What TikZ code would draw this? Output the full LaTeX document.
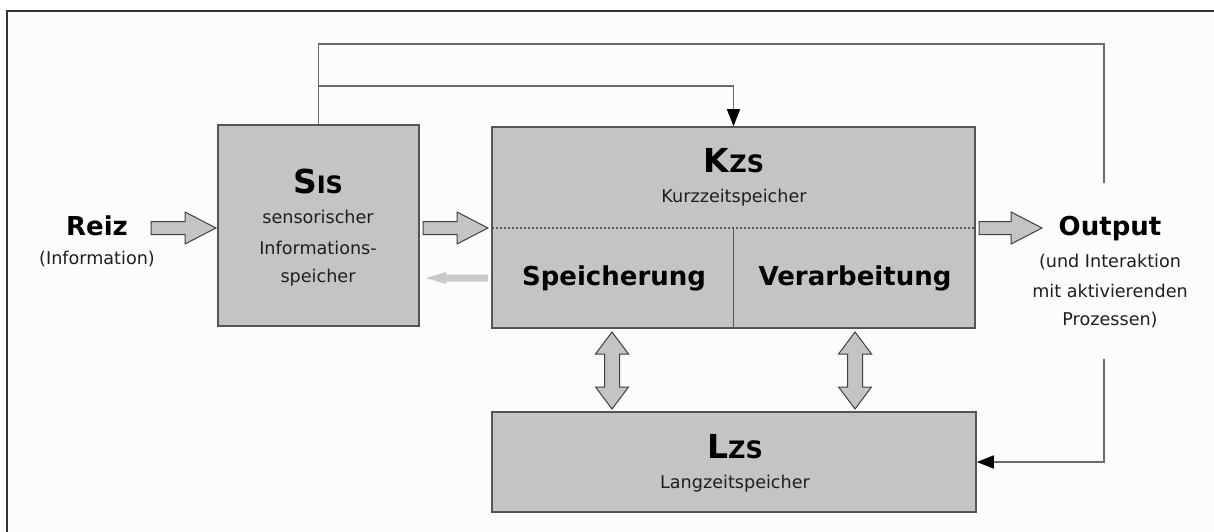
\documentclass[tikz,border=0pt]{standalone}
\usepackage{fontspec}
\setmainfont{DejaVu Sans}
\usetikzlibrary{arrows.meta}
\definecolor{boxfill}{HTML}{C4C4C4}
\definecolor{boxline}{HTML}{555555}
\definecolor{connc}{HTML}{6A6A6A}
\definecolor{framec}{HTML}{333333}
\definecolor{bgc}{HTML}{FCFCFC}
\definecolor{ghost}{HTML}{C9C9C9}
\definecolor{subtext}{HTML}{1E1E1E}
\newcommand\myharrow[3]{\draw[blockarrow] (#1,#3-6.5) -- (#2-31,#3-6.5) -- (#2-31,#3-16) -- (#2,#3) -- (#2-31,#3+16) -- (#2-31,#3+6.5) -- (#1,#3+6.5) -- cycle;}
\newcommand\myvarrow[3]{\draw[blockarrow] (#1,#2) -- (#1+16.5,#2+22) -- (#1+7.5,#2+22) -- (#1+7.5,#3-22) -- (#1+16.5,#3-22) -- (#1,#3) -- (#1-16.5,#3-22) -- (#1-7.5,#3-22) -- (#1-7.5,#2+22) -- (#1-16.5,#2+22) -- cycle;}
\begin{document}
\begin{tikzpicture}[x=1pt,y=-1pt,
  box/.style={draw=boxline, fill=boxfill, line width=1.6pt, inner sep=0pt},
  big/.style={font=\fontsize{26}{30}\selectfont\bfseries, inner sep=0pt, anchor=base},
  small/.style={font=\fontsize{17.6}{20}\selectfont, text=subtext, inner sep=0pt, anchor=base},
  connline/.style={draw=connc, line width=1.6pt},
  tipped/.style={-{Triangle[length=17pt,width=13pt,color=black]}},
  blockarrow/.style={draw=black!75, fill=boxfill, line width=1pt, line join=miter}]
\useasboundingbox (0,0) rectangle (1214,532);
\fill[white] (0,0) rectangle (1214,532);
\fill[bgc] (7,11) rectangle (1214,532);
\draw[framec, line width=2pt] (7,532) -- (7,11) -- (1214,11);

% boxes
\node[box, minimum width=201pt, minimum height=201pt] (sis) at (318.5,225.5) {};
\node[box, minimum width=483pt, minimum height=201pt] (kzs) at (733.5,227.5) {};
\node[box, minimum width=484pt, minimum height=100pt] (lzs) at (734,462) {};

% inner lines of KZS
\coordinate (dl) at (492,228);
\coordinate (dr) at (975,228);
\coordinate (dm) at (733.5,228);
\draw[boxline, line width=1.6pt, dash pattern=on 1.6pt off 2.4pt] (dl) -- (dr);
\draw[boxline, line width=1.6pt] (dm) -- (kzs.south);

% texts
\node[big] (reiz) at (97,235) {Reiz};
\node[small] (reizsub) at (97,264) {(Information)};
\node[big] (sist) at (318,193) {\fontsize{33}{36}\selectfont S\fontsize{24}{28}\selectfont IS};
\node[small] (sis1) at (318,223) {sensorischer};
\node[small] (sis2) at (318,254) {Informations-};
\node[small] (sis3) at (318,282) {speicher};
\node[big] (kzst) at (734,172) {\fontsize{33}{36}\selectfont K\fontsize{24}{28}\selectfont ZS};
\node[small] (kzs1) at (734,202) {Kurzzeitspeicher};
\node[big] (spei) at (614,285) {Speicherung};
\node[big] (verarb) at (855,285) {Verarbeitung};
\node[big] (lzst) at (735,458) {\fontsize{33}{36}\selectfont L\fontsize{24}{28}\selectfont ZS};
\node[small] (lzs1) at (735,488) {Langzeitspeicher};
\node[big] (output) at (1110,235) {Output};
\node[small] (out1) at (1110,267) {(und Interaktion};
\node[small] (out2) at (1110,297) {mit aktivierenden};
\node[small] (out3) at (1110,325) {Prozessen)};

% block arrows
\myharrow{151}{216}{228}
\myharrow{423}{488}{228}
\myharrow{979}{1042}{228}
\myvarrow{612}{332}{409}
\myvarrow{855}{332}{409}
\fill[ghost] (488,274.5) -- (446,274.5) -- (446,272) -- (426,278) -- (446,284) -- (446,281.5) -- (488,281.5) -- cycle;

% connectors
\coordinate (tr) at (1104,44);
\coordinate (outtop) at (1104,183);
\coordinate (jn) at (318.5,86);
\coordinate (outbot) at (1104,359);
\draw[connline] (sis.north) |- (tr) -- (outtop);
\draw[connline, tipped] (jn) -| (kzs.north);
\draw[connline, tipped] (outbot) |- (lzs.east);
\end{tikzpicture}
\end{document}
